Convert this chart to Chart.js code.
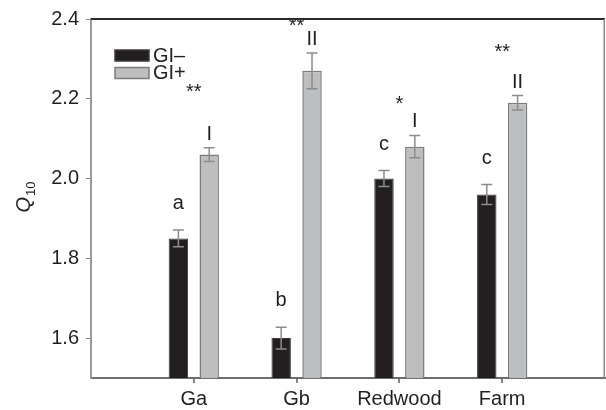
<!DOCTYPE html>
<html>
<head>
<title>Q10 bars</title>
<script src="https://cdn.jsdelivr.net/npm/chart.js"></script>
<style>
  body { margin: 0; background: #fff; }
  #wrap { width: 606px; height: 410px; }
</style>
</head>
<body>
<div id="wrap"><canvas id="myChart"></canvas></div>
<script>
// values
var categories = ['Ga', 'Gb', 'Redwood', 'Farm'];
var giMinus    = [1.85, 1.60, 2.00, 1.96];
var giMinusErr = [0.021, 0.027, 0.020, 0.025];
var giPlus     = [2.06, 2.27, 2.08, 2.19];
var giPlusErr  = [0.017, 0.045, 0.028, 0.018];
var letters    = ['a', 'b', 'c', 'c'];
var numerals   = ['I', 'II', 'I', 'II'];
var stars      = ['**', '**', '*', '**'];
var starLevel  = [2.225, 2.39, 2.195, 2.325];
var yTicks     = [1.6, 1.8, 2.0, 2.2, 2.4];

var FONT = '"Liberation Sans", Arial, Helvetica, sans-serif';
var INK = '#231f20';

// empty slot on each side, so groups land on 1..4 of a 0..5 axis
var labels = [''].concat(categories, ['']);
function pad(arr) { return [null].concat(arr, [null]); }

var extras = {
    id: 'extras',
    afterDraw: function(chart) {
        var ctx = chart.ctx, y = chart.scales.y, x = chart.scales.x, a = chart.chartArea;
        var errs = [giMinusErr, giPlusErr];
        var tops = [[], []];
        ctx.save();

        // error bars
        ctx.strokeStyle = '#8c8c8c';
        ctx.lineWidth = 1.5;
        [0, 1].forEach(function(d) {
            var meta = chart.getDatasetMeta(d);
            var vals = chart.data.datasets[d].data;
            meta.data.forEach(function(bar, i) {
                if (vals[i] == null) return;
                var e = errs[d][i - 1];
                var t = y.getPixelForValue(vals[i] + e);
                var b = y.getPixelForValue(vals[i] - e);
                tops[d][i - 1] = { x: bar.x, y: t };
                ctx.beginPath();
                ctx.moveTo(bar.x, t); ctx.lineTo(bar.x, b);
                ctx.moveTo(bar.x - 5.5, t); ctx.lineTo(bar.x + 5.5, t);
                ctx.moveTo(bar.x - 5.5, b); ctx.lineTo(bar.x + 5.5, b);
                ctx.stroke();
            });
        });

        // category tick marks under the axis
        ctx.strokeStyle = '#5e5e5e';
        ctx.lineWidth = 1.5;
        ctx.beginPath();
        categories.forEach(function(c, i) {
            var px = Math.round(x.getPixelForValue(i + 1));
            ctx.moveTo(px, a.bottom);
            ctx.lineTo(px, a.bottom + 5);
        });
        ctx.stroke();

        // letters, numerals, asterisks
        ctx.fillStyle = INK;
        ctx.textAlign = 'center';
        ctx.textBaseline = 'alphabetic';
        ctx.font = '20px ' + FONT;
        categories.forEach(function(c, i) {
            ctx.fillText(letters[i], tops[0][i].x, tops[0][i].y - 21);
            ctx.fillText(numerals[i], tops[1][i].x, tops[1][i].y - 8);
            ctx.fillText(stars[i], x.getPixelForValue(i + 1), y.getPixelForValue(starLevel[i]) + 9);
        });

        // top and right of the frame
        ctx.lineWidth = 2;
        ctx.strokeStyle = '#2b2b2b';
        ctx.beginPath();
        ctx.moveTo(a.left, a.top); ctx.lineTo(a.right, a.top);
        ctx.stroke();
        ctx.strokeStyle = '#8a8a8a';
        ctx.lineWidth = 1.5;
        ctx.beginPath();
        ctx.moveTo(a.right - 0.75, a.top); ctx.lineTo(a.right - 0.75, a.bottom);
        ctx.stroke();

        // legend inside the plot
        var lx = a.left + 24, ly = a.top + 31;
        chart.data.datasets.forEach(function(ds, d) {
            var by = ly + d * 17.5;
            ctx.fillStyle = ds.backgroundColor;
            ctx.fillRect(lx, by, 34, 11);
            ctx.strokeStyle = ds.borderColor;
            ctx.lineWidth = 1.5;
            ctx.strokeRect(lx, by, 34, 11);
            ctx.fillStyle = INK;
            ctx.textAlign = 'left';
            ctx.textBaseline = 'middle';
            ctx.font = '20px ' + FONT;
            ctx.fillText(ds.label, lx + 38, by + 6);
        });

        // y title: italic Q with subscript 10
        ctx.translate(30, 197);
        ctx.rotate(-Math.PI / 2);
        ctx.textAlign = 'left';
        ctx.textBaseline = 'alphabetic';
        ctx.font = 'italic 20px ' + FONT;
        var qw = ctx.measureText('Q').width;
        ctx.font = '13px ' + FONT;
        var sw = ctx.measureText('10').width;
        var x0 = -(qw + sw + 1) / 2;
        ctx.font = 'italic 20px ' + FONT;
        ctx.fillText('Q', x0, 0);
        ctx.font = '13px ' + FONT;
        ctx.fillText('10', x0 + qw + 1, 5);

        ctx.restore();
    }
};

var myChart = new Chart(document.getElementById('myChart'), {
    type: 'bar',
    data: {
        labels: labels,
        datasets: [{
            label: 'GI\u2013',
            data: pad(giMinus),
            backgroundColor: '#231f20',
            borderColor: '#3c3a3b',
            borderWidth: 1
        }, {
            label: 'GI+',
            data: pad(giPlus),
            backgroundColor: '#bdbec0',
            borderColor: '#7b7b7b',
            borderWidth: 1.5
        }]
    },
    options: {
        responsive: true,
        maintainAspectRatio: false,
        animation: false,
        categoryPercentage: 0.6,
        barPercentage: 0.63,
        layout: { padding: { top: 17, right: 1, left: 0, bottom: 0 } },
        plugins: {
            legend: { display: false },
            tooltip: { enabled: false }
        },
        scales: {
            x: {
                offset: false,
                grid: { display: false, drawTicks: false },
                border: { color: '#6e6e6e', width: 2 },
                ticks: {
                    color: INK,
                    font: { family: FONT, size: 20 },
                    padding: 9,
                    maxRotation: 0,
                    autoSkip: false
                },
                afterFit: function(s) {
                    s.height = 32;
                    s.paddingLeft = 0;
                    s.paddingRight = 0;
                }
            },
            y: {
                min: 1.5,
                max: 2.4,
                grid: {
                    drawOnChartArea: false,
                    drawTicks: true,
                    tickLength: 5,
                    tickColor: '#8c8c8c'
                },
                border: { color: '#9a9a9a', width: 2 },
                ticks: {
                    color: INK,
                    font: { family: FONT, size: 20 },
                    padding: 7,
                    callback: function(v) { return v.toFixed(1); }
                },
                afterBuildTicks: function(s) {
                    s.ticks = yTicks.map(function(v) { return { value: v }; });
                },
                afterFit: function(s) { s.width = 91; }
            }
        }
    },
    plugins: [extras]
});
</script>
</body>
</html>
